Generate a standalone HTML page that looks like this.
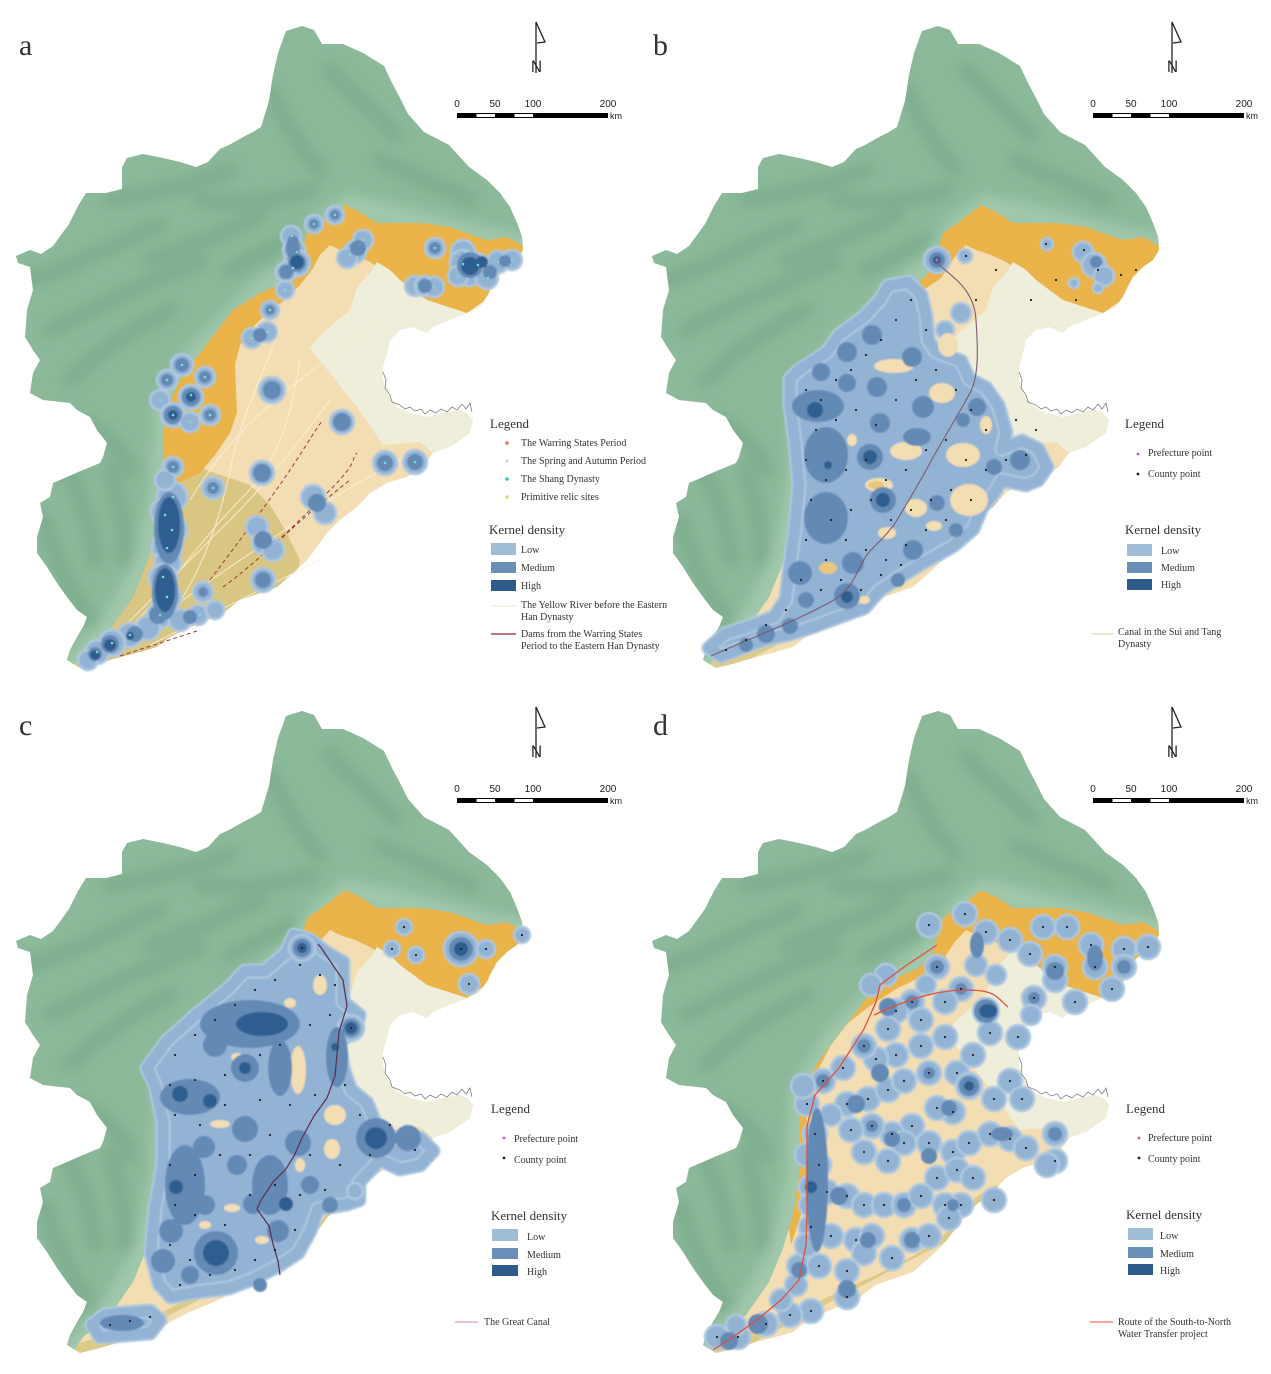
<!DOCTYPE html>
<html><head><meta charset="utf-8"><style>
html,body{margin:0;padding:0;background:#fff}
svg{display:block}
.L{fill:#93b3d4;stroke:#afc8e0;stroke-width:2.5}
.M{fill:#6489b5}
.H{fill:#2f5d8f}
.t{font-family:"Liberation Serif",serif;fill:#333}
.s{font-family:"Liberation Sans",sans-serif;fill:#222}
</style></head><body>
<svg width="1271" height="1374" viewBox="0 0 1271 1374" xmlns="http://www.w3.org/2000/svg">
<defs>
<path id="O" d="M302,26 L314,30 L322,44 L343,44 L363,53 L384,66 L392,83 L400,98 L408,114 L424,132 L449,145 L469,167 L487,180 L500,193 L510,207 L517,223 L522,237 L523,250 L517,260 L507,267 L497,277 L490,290 L487,297 L480,307 L467,313 L450,320 L433,327 L427,333 L413,327 L400,330 L390,340 L387,353 L383,367 L383,380 L387,393 L397,407 L410,413 L427,417 L443,413 L460,410 L467,413 L473,420 L470,433 L450,447 L433,453 L423,467 L407,477 L387,483 L370,493 L357,507 L340,520 L327,533 L317,547 L307,560 L293,573 L277,587 L260,593 L240,600 L223,613 L207,620 L190,627 L170,637 L157,647 L140,652 L117,658 L100,663 L80,668 L67,660 L70,650 L77,637 L83,627 L87,617 L77,610 L67,597 L57,583 L47,567 L37,553 L37,537 L43,517 L40,503 L50,497 L53,483 L67,477 L83,470 L100,463 L103,457 L107,443 L97,430 L90,417 L77,410 L70,403 L43,400 L30,393 L33,373 L40,360 L33,350 L25,337 L27,310 L33,290 L30,267 L18,263 L16,256 L30,250 L41,254 L53,246 L69,224 L78,206 L86,193 L106,193 L122,189 L122,167 L127,158 L143,154 L163,158 L180,162 L196,167 L208,162 L220,149 L229,145 L245,136 L253,132 L261,127 L269,101 L273,75 L278,53 L286,31 Z"/>
<path id="G" d="M0,0 L640,0 L640,245 L523,246 L507,237 L487,240 L467,233 L450,227 L420,223 L400,223 L377,223 L360,212 L345,205 L323,222 L307,233 L297,267 L283,283 L260,293 L233,310 L200,353 L180,380 L166,410 L163,440 L163,490 L157,530 L147,563 L133,597 L110,630 L83,652 L72,668 L0,690 Z"/>
<clipPath id="cl"><use href="#O"/></clipPath>
<clipPath id="gcl"><use href="#G"/></clipPath>
<filter id="bl" filterUnits="userSpaceOnUse" x="-50" y="-50" width="700" height="800"><feGaussianBlur stdDeviation="6"/></filter>
<filter id="sb" filterUnits="userSpaceOnUse" x="-50" y="-50" width="700" height="800"><feGaussianBlur stdDeviation="0.8"/></filter>

<path id="orA" fill="#ebb44a" d="M150,520 L150,420 L170,370 L200,330 L240,290 L280,255 L300,210 L345,190 L380,205 L450,210 L500,215 L535,232 L535,252 L517,262 L500,275 L490,292 L480,306 L467,313 L445,308 L427,300 L410,290 L400,280 L385,272 L370,262 L355,255 L340,250 L330,245 L320,255 L312,270 L300,285 L285,300 L265,315 L250,330 L240,345 L235,365 L237,413 L230,433 L215,455 L200,473 L185,480 L165,488 L160,520 Z"/>
<path id="orB" fill="#ebb44a" d="M150,520 L150,420 L170,370 L200,330 L240,290 L280,255 L300,210 L345,190 L380,205 L450,210 L500,215 L535,232 L535,252 L517,262 L500,275 L490,292 L480,306 L467,313 L445,308 L427,300 L410,290 L400,280 L385,272 L370,262 L355,255 L340,250 L330,245 L318,258 L305,278 L285,292 L262,303 L238,318 L212,338 L195,360 L182,385 L172,412 L170,445 L170,500 L165,530 L155,560 Z"/>
<path id="olA" fill="#d8c682" d="M160,478 L200,468 L250,485 L270,505 L285,530 L300,560 L297,575 L277,590 L240,605 L200,625 L150,650 L90,672 L55,672 L100,600 L140,560 Z"/>
<path id="olB" fill="#dcca88" d="M360,500 L340,512 L318,540 L300,557 L270,575 L240,590 L200,608 L160,628 L120,645 L80,658 L55,665 L55,690 L380,520 Z"/>
<path id="cr" fill="#eeeedb" d="M377,262 L390,270 L400,280 L427,300 L467,313 L500,290 L545,300 L545,445 L475,440 L433,453 L420,442 L383,445 L357,407 L343,390 L330,373 L313,353 L310,347 L323,333 L350,310 L357,287 L370,273 Z"/>
<g id="gr">
<use href="#G" fill="#8bb99a"/>
<g clip-path="url(#gcl)">
<g filter="url(#bl)" fill="none" stroke-linecap="round">
<g stroke="#6f9f80" stroke-width="16" opacity="0.45">
<path d="M30,280 C70,270 110,245 160,225"/>
<path d="M50,330 C90,310 140,285 200,262"/>
<path d="M70,380 C100,350 130,330 170,310"/>
<path d="M110,200 C150,195 190,185 230,170"/>
<path d="M150,260 C180,250 220,235 260,215"/>
<path d="M270,90 C285,120 300,150 320,170"/>
<path d="M330,70 C350,95 375,110 395,135"/>
<path d="M380,160 C410,175 440,185 470,200"/>
<path d="M60,460 C80,490 90,520 95,560"/>
<path d="M45,520 C55,560 70,590 90,620"/>
<path d="M110,470 C120,500 125,530 125,560"/>
<path d="M200,200 C240,205 280,200 310,190"/>
<path d="M230,270 C250,260 270,250 290,240"/>
<path d="M80,420 C100,430 120,445 130,470"/>
</g>
<path stroke="#a9cdb1" stroke-width="24" opacity="0.75" d="M72,668 L110,630 L147,563 L163,490 L166,410 L200,353 L260,293 L297,267 L323,227 L350,207 L420,223 L487,240 L523,246"/>
</g>
</g>
</g>
<g id="coast" fill="none" stroke="#6e7466" stroke-width="0.7">
<path d="M383,372 L386,380 L385,388 L390,395 L392,402 L400,405 L405,409 L410,407 L415,411 L421,409 L425,414 L430,410 L436,413 L441,409 L447,412 L452,407 L457,410 L462,404 L466,409 L470,403 L472,412"/>
</g>
<g id="nsb">
<path d="M536,22 L536,73" stroke="#222" stroke-width="1.3"/>
<path d="M536,22 L545,42 L537,43" fill="none" stroke="#222" stroke-width="1.3"/>
<text class="s" x="531" y="72" font-size="17" textLength="11" lengthAdjust="spacingAndGlyphs">N</text>
<rect x="457" y="113" width="151" height="5" fill="#000"/>
<rect x="476.5" y="114" width="18.5" height="3" fill="#fff"/>
<rect x="514.5" y="114" width="18.5" height="3" fill="#fff"/>
<text class="s" font-size="10" text-anchor="middle"><tspan x="457" y="107">0</tspan><tspan x="495" y="107">50</tspan><tspan x="533" y="107">100</tspan><tspan x="608" y="107">200</tspan></text>
<text class="s" x="610" y="119" font-size="9">km</text>
</g>
</defs>

<rect width="1271" height="1374" fill="#fff"/>

<!-- ===== PANEL A ===== -->
<g>
<g clip-path="url(#cl)">
<use href="#O" fill="#f3ddb3"/>
<use href="#olA"/><use href="#orA"/><use href="#cr"/><use href="#gr"/>
</g>
<use href="#coast"/>
<g fill="none" stroke="#fbf1d8" stroke-width="1" opacity="0.9">
<path d="M92,660 C140,610 190,560 230,520 S300,440 330,400"/>
<path d="M110,650 C160,600 200,540 240,500 S290,420 300,360"/>
<path d="M130,640 C180,600 240,560 300,520 S380,470 420,450"/>
<path d="M160,630 C200,580 220,520 230,470 S260,380 280,330"/>
<path d="M190,500 C220,450 260,410 300,380 S350,340 380,320"/>
<path d="M150,645 C200,620 260,590 320,560"/>
</g>
<g fill="none" stroke="#9a3b3b" stroke-width="1" stroke-dasharray="4,3">
<path d="M210,580 C240,540 270,500 290,470 S315,430 323,420"/>
<path d="M223,587 C260,560 300,520 330,490 S350,460 357,453"/>
<path d="M277,543 C300,520 325,500 350,480"/>
<path d="M120,656 L200,630"/>
</g>
<g filter="url(#sb)">
<g class="L">
<circle cx="335" cy="215" r="9"/><circle cx="314" cy="224" r="9"/><circle cx="291" cy="236" r="10"/><circle cx="294" cy="250" r="11"/><circle cx="297" cy="263" r="13"/><circle cx="286" cy="272" r="10"/><circle cx="363" cy="240" r="10"/><circle cx="355" cy="252" r="11"/><circle cx="347" cy="258" r="10"/><circle cx="435" cy="248" r="10"/><circle cx="415" cy="286" r="10"/><circle cx="425" cy="286" r="10"/><circle cx="434" cy="287" r="10"/><circle cx="463" cy="252" r="12"/><circle cx="463" cy="263" r="13"/><circle cx="476" cy="266" r="13"/><circle cx="469" cy="274" r="12"/><circle cx="458" cy="276" r="10"/><circle cx="487" cy="278" r="11"/><circle cx="498" cy="262" r="11"/><circle cx="512" cy="260" r="10"/><circle cx="285" cy="290" r="9"/><circle cx="270" cy="310" r="9"/><circle cx="267" cy="332" r="10"/><circle cx="252" cy="338" r="10"/><circle cx="182" cy="365" r="11"/><circle cx="167" cy="380" r="10"/><circle cx="205" cy="377" r="10"/><circle cx="191" cy="397" r="12"/><circle cx="160" cy="400" r="10"/><circle cx="173" cy="415" r="12"/><circle cx="190" cy="422" r="10"/><circle cx="210" cy="415" r="10"/><circle cx="272" cy="390" r="13"/><circle cx="342" cy="422" r="12"/><circle cx="385" cy="463" r="12"/><circle cx="415" cy="462" r="12"/><circle cx="173" cy="467" r="10"/><circle cx="262" cy="473" r="12"/><circle cx="213" cy="488" r="11"/><circle cx="313" cy="497" r="12"/><circle cx="325" cy="513" r="11"/><circle cx="257" cy="527" r="11"/><circle cx="263" cy="543" r="11"/><circle cx="273" cy="550" r="11"/><circle cx="263" cy="580" r="12"/><circle cx="203" cy="592" r="10"/><circle cx="172" cy="497" r="15"/><circle cx="166" cy="512" r="15"/><circle cx="171" cy="530" r="16"/><circle cx="167" cy="547" r="15"/><circle cx="168" cy="562" r="13"/><circle cx="163" cy="578" r="14"/><circle cx="167" cy="597" r="14"/><circle cx="160" cy="615" r="13"/><circle cx="148" cy="628" r="12"/><circle cx="130" cy="635" r="12"/><circle cx="112" cy="643" r="13"/><circle cx="97" cy="652" r="12"/><circle cx="88" cy="660" r="10"/><circle cx="180" cy="620" r="11"/><circle cx="198" cy="615" r="10"/><circle cx="215" cy="610" r="9"/><circle cx="165" cy="480" r="10"/>
</g>
<g class="M">
<circle cx="335" cy="215" r="5"/><circle cx="314" cy="224" r="5"/><ellipse cx="293" cy="248" rx="7" ry="13"/><circle cx="297" cy="263" r="9"/><circle cx="286" cy="272" r="7"/><circle cx="358" cy="248" r="8"/><circle cx="435" cy="248" r="6"/><circle cx="425" cy="286" r="7"/><circle cx="470" cy="265" r="13"/><circle cx="490" cy="272" r="7"/><circle cx="505" cy="261" r="6"/><circle cx="270" cy="310" r="5"/><circle cx="260" cy="335" r="7"/><circle cx="182" cy="365" r="7"/><circle cx="191" cy="397" r="9"/><circle cx="173" cy="415" r="9"/><circle cx="167" cy="380" r="6"/><circle cx="205" cy="377" r="6"/><circle cx="210" cy="415" r="6"/><circle cx="272" cy="390" r="9"/><circle cx="342" cy="422" r="9"/><circle cx="385" cy="463" r="8"/><circle cx="415" cy="462" r="8"/><circle cx="262" cy="473" r="9"/><circle cx="213" cy="488" r="6"/><circle cx="317" cy="503" r="9"/><circle cx="263" cy="540" r="9"/><circle cx="263" cy="580" r="8"/><ellipse cx="169" cy="528" rx="15" ry="36"/><ellipse cx="165" cy="592" rx="13" ry="28"/><circle cx="158" cy="615" r="9"/><circle cx="135" cy="634" r="8"/><circle cx="110" cy="644" r="9"/><circle cx="95" cy="654" r="7"/><circle cx="190" cy="617" r="7"/><circle cx="173" cy="467" r="6"/><circle cx="203" cy="592" r="5"/>
</g>
<g class="H">
<circle cx="297" cy="262" r="7"/><circle cx="470" cy="266" r="9"/><circle cx="482" cy="262" r="6"/><circle cx="191" cy="397" r="5"/><circle cx="173" cy="415" r="5"/><ellipse cx="169" cy="525" rx="11" ry="28"/><ellipse cx="165" cy="590" rx="10" ry="22"/><circle cx="110" cy="645" r="6"/><circle cx="95" cy="655" r="5"/><circle cx="130" cy="636" r="4"/>
</g>
</g>
<path fill="none" stroke="#79dccd" stroke-width="2.6" stroke-linecap="round" d="M335,215h0M314,224h0M292,236h0M297,252h0M293,268h0M363,240h0M350,255h0M435,248h0M416,286h0M434,287h0M465,252h0M463,264h0M478,265h0M458,276h0M488,278h0M498,262h0M512,260h0M285,290h0M270,310h0M267,332h0M252,338h0M182,365h0M167,380h0M205,377h0M191,395h0M160,400h0M173,415h0M190,422h0M210,415h0M385,463h0M415,462h0M173,467h0M213,488h0M173,497h0M165,515h0M172,530h0M167,548h0M163,577h0M167,597h0M160,615h0M130,635h0M112,643h0M97,652h0M200,615h0"/>
<use href="#nsb"/>
</g>
<text class="t" x="19" y="55" font-size="30">a</text>
<text class="t" x="490" y="428" font-size="13">Legend</text>
<circle cx="507" cy="443" r="1.8" fill="#e07a5a"/><circle cx="507" cy="461" r="1.8" fill="#dcd8cc"/><circle cx="507" cy="479" r="1.8" fill="#3cc4b4"/><circle cx="507" cy="497" r="1.8" fill="#e4d870"/>
<text class="t" font-size="10"><tspan x="521" y="446">The Warring States Period</tspan><tspan x="521" y="464">The Spring and Autumn Period</tspan><tspan x="521" y="482">The Shang Dynasty</tspan><tspan x="521" y="500">Primitive relic sites</tspan></text>
<text class="t" x="489" y="534" font-size="13">Kernel density</text>
<rect x="491" y="543" width="25" height="12" fill="#a0bdd8"/><rect x="491" y="562" width="25" height="11" fill="#6a8fb7"/><rect x="491" y="580" width="25" height="11" fill="#2f5b8a"/>
<text class="t" font-size="10"><tspan x="521" y="553">Low</tspan><tspan x="521" y="571">Medium</tspan><tspan x="521" y="589">High</tspan></text>
<line x1="491" y1="606" x2="516" y2="606" stroke="#f3ead0" stroke-width="1.2"/>
<text class="t" font-size="10"><tspan x="521" y="608">The Yellow River before the Eastern</tspan><tspan x="521" y="620">Han Dynasty</tspan><tspan x="521" y="637">Dams from the Warring States</tspan><tspan x="521" y="649">Period to the Eastern Han Dynasty</tspan></text>
<line x1="491" y1="634" x2="516" y2="634" stroke="#8b2a3a" stroke-width="1.2"/>

<!-- ===== PANEL B ===== -->
<g transform="translate(636,0)">
<g clip-path="url(#cl)">
<use href="#O" fill="#f3ddb3"/>
<use href="#olB"/><use href="#orB"/><use href="#cr"/><use href="#gr"/>
</g>
<use href="#coast"/>
<g filter="url(#sb)">
<path fill="#93b3d4" stroke="#afc8e0" stroke-width="15" stroke-linejoin="round" d="M154,379 L163,370 L191,352 L203,335 L228,317 L244,300 L252,286 L272,282 L285,295 L290,315 L292,340 L300,352 L325,361 L333,379 L350,388 L362,405 L370,432 L366,449 L386,441 L402,449 L411,467 L402,480 L390,485 L366,480 L358,493 L346,507 L337,529 L317,546 L301,555 L285,564 L264,577 L244,590 L228,608 L203,617 L179,626 L154,634 L130,639 L106,648 L85,656 L73,648 L89,634 L114,626 L138,617 L150,599 L154,564 L159,529 L163,485 L159,441 L154,405 Z"/>
<path fill="none" stroke="#93b3d4" stroke-width="11" stroke-linejoin="round" d="M154,379 L163,370 L191,352 L203,335 L228,317 L244,300 L252,286 L272,282 L285,295 L290,315 L292,340 L300,352 L325,361 L333,379 L350,388 L362,405 L370,432 L366,449 L386,441 L402,449 L411,467 L402,480 L390,485 L366,480 L358,493 L346,507 L337,529 L317,546 L301,555 L285,564 L264,577 L244,590 L228,608 L203,617 L179,626 L154,634 L130,639 L106,648 L85,656 L73,648 L89,634 L114,626 L138,617 L150,599 L154,564 L159,529 L163,485 L159,441 L154,405 Z"/>
<g class="L">
<circle cx="301" cy="260" r="13"/><circle cx="329" cy="256" r="7"/><circle cx="325" cy="313" r="10"/><circle cx="309" cy="330" r="9"/><circle cx="447" cy="252" r="10"/><circle cx="458" cy="265" r="12"/><circle cx="468" cy="276" r="10"/><circle cx="411" cy="244" r="6"/><circle cx="438" cy="283" r="5"/><circle cx="462" cy="288" r="5"/>
</g>
<g fill="#f3ddb3">
<ellipse cx="258" cy="366" rx="20" ry="7"/><ellipse cx="270" cy="451" rx="16" ry="9"/><ellipse cx="327" cy="455" rx="17" ry="12"/><ellipse cx="333" cy="500" rx="19" ry="16"/><ellipse cx="243" cy="485" rx="14" ry="7"/><ellipse cx="280" cy="508" rx="11" ry="9"/><ellipse cx="251" cy="533" rx="9" ry="6"/><ellipse cx="306" cy="393" rx="13" ry="10"/><ellipse cx="216" cy="440" rx="5" ry="6"/><ellipse cx="312" cy="345" rx="10" ry="12"/><ellipse cx="298" cy="526" rx="8" ry="5"/><ellipse cx="228" cy="600" rx="6" ry="4"/><ellipse cx="350" cy="425" rx="6" ry="9"/>
</g>
<g fill="#e9c77a"><ellipse cx="192" cy="568" rx="9" ry="6"/><ellipse cx="240" cy="485" rx="8" ry="4"/></g>
<g class="M">
<ellipse cx="182" cy="406" rx="26" ry="16"/><ellipse cx="190" cy="455" rx="22" ry="28"/><ellipse cx="190" cy="518" rx="22" ry="26"/><circle cx="234" cy="457" r="13"/><circle cx="247" cy="500" r="13"/><circle cx="244" cy="423" r="10"/><ellipse cx="281" cy="437" rx="14" ry="9"/><circle cx="287" cy="407" r="11"/><circle cx="241" cy="387" r="10"/><circle cx="211" cy="383" r="9"/><circle cx="341" cy="407" r="9"/><circle cx="327" cy="420" r="7"/><circle cx="301" cy="503" r="8"/><circle cx="277" cy="550" r="10"/><circle cx="217" cy="563" r="11"/><circle cx="164" cy="573" r="12"/><circle cx="211" cy="596" r="13"/><circle cx="211" cy="352" r="10"/><circle cx="236" cy="335" r="10"/><circle cx="276" cy="357" r="10"/><circle cx="185" cy="372" r="9"/><circle cx="130" cy="634" r="9"/><circle cx="110" cy="645" r="7"/><circle cx="154" cy="626" r="8"/><circle cx="358" cy="467" r="8"/><circle cx="384" cy="460" r="10"/><circle cx="301" cy="260" r="8"/><circle cx="460" cy="262" r="6"/><circle cx="262" cy="580" r="7"/><circle cx="170" cy="600" r="8"/><circle cx="320" cy="530" r="7"/>
</g>
<g class="H">
<circle cx="179" cy="410" r="8"/><circle cx="234" cy="457" r="7"/><circle cx="247" cy="500" r="7"/><circle cx="211" cy="597" r="6"/><circle cx="301" cy="260" r="4"/><circle cx="192" cy="465" r="4"/>
</g>
</g>
<path fill="none" stroke="#7d5a6e" stroke-width="1.1" d="M75,656 C110,640 150,625 175,612 S200,600 210,590 S225,560 235,550 S255,530 261,520 S285,480 294,463 S325,410 334,393 S342,350 340,320 S320,280 300,262"/>
<path fill="none" stroke="#222" stroke-width="2.2" stroke-linecap="round" d="M170,390h0M185,400h0M200,380h0M215,370h0M230,355h0M245,340h0M260,320h0M275,300h0M290,330h0M180,430h0M200,420h0M220,410h0M240,425h0M260,400h0M280,380h0M300,370h0M320,390h0M335,410h0M350,430h0M170,460h0M190,480h0M210,470h0M230,460h0M250,480h0M270,470h0M290,450h0M310,440h0M330,460h0M350,470h0M370,460h0M390,455h0M175,500h0M195,520h0M215,510h0M235,500h0M255,520h0M275,510h0M295,500h0M315,490h0M335,500h0M170,540h0M190,560h0M210,540h0M230,550h0M250,560h0M270,545h0M290,530h0M310,520h0M165,580h0M185,590h0M205,580h0M225,590h0M245,575h0M265,565h0M150,610h0M130,625h0M110,640h0M90,650h0M330,256h0M410,244h0M448,250h0M462,270h0M485,275h0M420,280h0M360,270h0M340,300h0M440,300h0M500,270h0M395,300h0M380,420h0M400,430h0"/>
<circle cx="301" cy="260" r="1.5" fill="#d060c0"/>
<use href="#nsb"/>
</g>
<text class="t" x="653" y="55" font-size="30">b</text>
<text class="t" x="1125" y="428" font-size="13">Legend</text>
<circle cx="1138" cy="454" r="1.4" fill="#c858c0"/><circle cx="1138" cy="474" r="1.4" fill="#222"/>
<text class="t" font-size="10"><tspan x="1148" y="456">Prefecture point</tspan><tspan x="1148" y="477">County point</tspan></text>
<text class="t" x="1125" y="534" font-size="13">Kernel density</text>
<rect x="1127" y="544" width="25" height="12" fill="#a0bdd8"/><rect x="1127" y="562" width="25" height="11" fill="#6a8fb7"/><rect x="1127" y="579" width="25" height="11" fill="#2f5b8a"/>
<text class="t" font-size="10"><tspan x="1161" y="554">Low</tspan><tspan x="1161" y="571">Medium</tspan><tspan x="1161" y="588">High</tspan></text>
<line x1="1092" y1="634" x2="1113" y2="634" stroke="#e6d6b0" stroke-width="1.2"/>
<text class="t" font-size="10"><tspan x="1118" y="635">Canal in the Sui and Tang</tspan><tspan x="1118" y="647">Dynasty</tspan></text>

<!-- ===== PANEL C ===== -->
<g transform="translate(0,685)">
<g clip-path="url(#cl)">
<use href="#O" fill="#f3ddb3"/>
<use href="#olB"/><use href="#orB"/><use href="#cr"/><use href="#gr"/>
</g>
<use href="#coast"/>
<g filter="url(#sb)">
<path fill="#93b3d4" stroke="#afc8e0" stroke-width="15" stroke-linejoin="round" d="M167,356 L196,330 L229,303 L245,286 L265,286 L286,268 L294,250 L310,255 L327,268 L343,277 L343,317 L359,330 L355,347 L339,356 L343,383 L351,405 L367,418 L376,440 L392,453 L420,453 L433,466 L420,480 L400,484 L380,475 L359,497 L359,515 L347,519 L318,524 L310,546 L298,568 L278,581 L253,594 L229,603 L196,607 L171,612 L159,599 L151,568 L155,524 L163,480 L163,436 L155,400 L147,383 Z M92,640 L105,630 L125,628 L150,626 L160,635 L150,648 L125,650 L100,652 Z"/>
<path fill="none" stroke="#93b3d4" stroke-width="11" stroke-linejoin="round" d="M167,356 L196,330 L229,303 L245,286 L265,286 L286,268 L294,250 L310,255 L327,268 L343,277 L343,317 L359,330 L355,347 L339,356 L343,383 L351,405 L367,418 L376,440 L392,453 L420,453 L433,466 L420,480 L400,484 L380,475 L359,497 L359,515 L347,519 L318,524 L310,546 L298,568 L278,581 L253,594 L229,603 L196,607 L171,612 L159,599 L151,568 L155,524 L163,480 L163,436 L155,400 L147,383 Z M92,640 L105,630 L125,628 L150,626 L160,635 L150,648 L125,650 L100,652 Z"/>
<g class="L">
<circle cx="302" cy="263" r="13"/><circle cx="404" cy="242" r="8"/><circle cx="392" cy="264" r="8"/><circle cx="416" cy="270" r="8"/><circle cx="461" cy="264" r="17"/><circle cx="486" cy="264" r="9"/><circle cx="522" cy="250" r="8"/><circle cx="469" cy="299" r="10"/><circle cx="351" cy="343" r="13"/><circle cx="355" cy="506" r="8"/>
</g>
<g fill="#f3ddb3">
<ellipse cx="298" cy="385" rx="8" ry="24"/><ellipse cx="335" cy="430" rx="11" ry="10"/><ellipse cx="332" cy="464" rx="8" ry="10"/><ellipse cx="220" cy="439" rx="10" ry="4"/><ellipse cx="237" cy="372" rx="6" ry="4"/><ellipse cx="290" cy="318" rx="6" ry="5"/><ellipse cx="232" cy="523" rx="8" ry="4"/><ellipse cx="262" cy="555" rx="7" ry="4"/><ellipse cx="300" cy="480" rx="5" ry="7"/><ellipse cx="205" cy="540" rx="6" ry="4"/><ellipse cx="320" cy="300" rx="7" ry="10"/>
</g>
<g class="M">
<ellipse cx="250" cy="339" rx="50" ry="24"/><circle cx="215" cy="360" r="12"/><ellipse cx="190" cy="412" rx="30" ry="18"/><circle cx="245" cy="383" r="14"/><circle cx="376" cy="453" r="20"/><circle cx="408" cy="453" r="13"/><ellipse cx="185" cy="500" rx="20" ry="40"/><circle cx="216" cy="568" r="22"/><ellipse cx="270" cy="500" rx="18" ry="30"/><circle cx="278" cy="546" r="11"/><circle cx="253" cy="519" r="10"/><ellipse cx="337" cy="372" rx="11" ry="30"/><ellipse cx="280" cy="383" rx="12" ry="28"/><circle cx="245" cy="444" r="13"/><circle cx="298" cy="458" r="13"/><circle cx="204" cy="462" r="11"/><circle cx="171" cy="546" r="12"/><circle cx="163" cy="576" r="12"/><circle cx="237" cy="480" r="10"/><ellipse cx="122" cy="638" rx="22" ry="8"/><circle cx="302" cy="263" r="9"/><circle cx="461" cy="264" r="12"/><circle cx="351" cy="343" r="9"/><circle cx="205" cy="520" r="10"/><circle cx="260" cy="600" r="7"/><circle cx="190" cy="590" r="9"/><circle cx="310" cy="500" r="9"/><circle cx="330" cy="520" r="8"/>
</g>
<g class="H">
<ellipse cx="262" cy="339" rx="26" ry="12"/><circle cx="180" cy="409" r="8"/><circle cx="210" cy="416" r="7"/><circle cx="245" cy="383" r="6"/><circle cx="376" cy="453" r="11"/><circle cx="176" cy="502" r="7"/><circle cx="216" cy="568" r="13"/><circle cx="286" cy="519" r="7"/><circle cx="302" cy="263" r="5"/><circle cx="461" cy="264" r="7"/><circle cx="351" cy="343" r="6"/><circle cx="335" cy="362" r="4"/>
</g>
</g>
<path fill="none" stroke="#5b2d4e" stroke-width="1.2" d="M318,259 L322,264 L343,295 L347,321 L339,347 L335,391 L327,413 L314,431 L302,453 L294,471 L286,484 L273,497 L261,515 L257,524 L269,541 L273,559 L278,576 L280,590"/>
<path fill="none" stroke="#222" stroke-width="2.2" stroke-linecap="round" d="M175,370h0M195,350h0M215,335h0M235,320h0M255,305h0M275,295h0M300,280h0M320,290h0M335,300h0M170,400h0M195,395h0M225,390h0M260,370h0M280,360h0M310,340h0M330,330h0M175,430h0M200,440h0M225,420h0M260,415h0M290,420h0M315,410h0M345,400h0M360,430h0M390,440h0M415,465h0M170,480h0M195,490h0M220,470h0M250,470h0M270,450h0M310,470h0M340,480h0M370,470h0M175,520h0M195,530h0M225,540h0M250,510h0M275,500h0M300,510h0M325,505h0M170,560h0M190,575h0M210,590h0M235,585h0M255,575h0M275,565h0M295,545h0M180,600h0M110,640h0M130,636h0M150,632h0M302,263h0M404,242h0M392,264h0M416,270h0M461,264h0M486,264h0M522,250h0M469,299h0M351,343h0"/>
<use href="#nsb"/>
</g>
<text class="t" x="19" y="735" font-size="30">c</text>
<text class="t" x="491" y="1113" font-size="13">Legend</text>
<circle cx="504" cy="1138" r="1.4" fill="#c858c0"/><circle cx="504" cy="1158" r="1.4" fill="#222"/>
<text class="t" font-size="10"><tspan x="514" y="1142">Prefecture point</tspan><tspan x="514" y="1163">County point</tspan></text>
<text class="t" x="491" y="1220" font-size="13">Kernel density</text>
<rect x="492" y="1229" width="26" height="12" fill="#a0bdd8"/><rect x="492" y="1248" width="26" height="11" fill="#6a8fb7"/><rect x="492" y="1265" width="26" height="11" fill="#2f5b8a"/>
<text class="t" font-size="10"><tspan x="527" y="1240">Low</tspan><tspan x="527" y="1258">Medium</tspan><tspan x="527" y="1275">High</tspan></text>
<line x1="455" y1="1322" x2="478" y2="1322" stroke="#e8a0a8" stroke-width="1.2"/>
<text class="t" x="484" y="1325" font-size="10">The Great Canal</text>

<!-- ===== PANEL D ===== -->
<g transform="translate(636,685)">
<g clip-path="url(#cl)">
<use href="#O" fill="#f3ddb3"/>
<use href="#olB"/><use href="#orB"/><use href="#cr"/><use href="#gr"/>
</g>
<use href="#coast"/>
<g filter="url(#sb)">
<g class="L">
<circle cx="293" cy="240" r="12"/><circle cx="329" cy="229" r="12"/><circle cx="350" cy="247" r="12"/><circle cx="374" cy="255" r="12"/><circle cx="407" cy="242" r="12"/><circle cx="431" cy="242" r="12"/><circle cx="455" cy="260" r="12"/><circle cx="488" cy="264" r="12"/><circle cx="512" cy="262" r="12"/><circle cx="394" cy="269" r="12"/><circle cx="419" cy="282" r="12"/><circle cx="419" cy="295" r="12"/><circle cx="459" cy="282" r="12"/><circle cx="488" cy="282" r="12"/><circle cx="476" cy="304" r="12"/><circle cx="439" cy="317" r="12"/><circle cx="398" cy="313" r="12"/><circle cx="301" cy="282" r="12"/><circle cx="325" cy="304" r="12"/><circle cx="309" cy="317" r="12"/><circle cx="276" cy="317" r="12"/><circle cx="260" cy="326" r="12"/><circle cx="252" cy="344" r="12"/><circle cx="285" cy="335" r="12"/><circle cx="350" cy="326" r="13"/><circle cx="354" cy="348" r="12"/><circle cx="382" cy="352" r="12"/><circle cx="337" cy="370" r="12"/><circle cx="309" cy="352" r="12"/><circle cx="285" cy="361" r="12"/><circle cx="260" cy="370" r="12"/><circle cx="240" cy="374" r="12"/><circle cx="228" cy="361" r="12"/><circle cx="207" cy="383" r="12"/><circle cx="187" cy="396" r="12"/><circle cx="171" cy="419" r="12"/><circle cx="167" cy="401" r="12"/><circle cx="179" cy="449" r="12"/><circle cx="211" cy="419" r="12"/><circle cx="232" cy="414" r="12"/><circle cx="252" cy="405" r="12"/><circle cx="268" cy="396" r="12"/><circle cx="293" cy="388" r="12"/><circle cx="321" cy="388" r="12"/><circle cx="333" cy="401" r="13"/><circle cx="358" cy="414" r="12"/><circle cx="374" cy="396" r="12"/><circle cx="386" cy="414" r="12"/><circle cx="317" cy="427" r="12"/><circle cx="301" cy="423" r="12"/><circle cx="276" cy="441" r="12"/><circle cx="256" cy="449" r="12"/><circle cx="236" cy="441" r="12"/><circle cx="215" cy="445" r="12"/><circle cx="228" cy="467" r="12"/><circle cx="252" cy="476" r="12"/><circle cx="268" cy="458" r="12"/><circle cx="293" cy="458" r="12"/><circle cx="317" cy="467" r="12"/><circle cx="333" cy="458" r="12"/><circle cx="354" cy="449" r="12"/><circle cx="374" cy="454" r="12"/><circle cx="390" cy="463" r="12"/><circle cx="419" cy="449" r="12"/><circle cx="419" cy="476" r="12"/><circle cx="411" cy="480" r="12"/><circle cx="183" cy="480" r="12"/><circle cx="175" cy="502" r="12"/><circle cx="191" cy="507" r="12"/><circle cx="211" cy="511" r="12"/><circle cx="228" cy="520" r="12"/><circle cx="248" cy="520" r="12"/><circle cx="268" cy="520" r="12"/><circle cx="285" cy="511" r="12"/><circle cx="301" cy="493" r="12"/><circle cx="321" cy="485" r="12"/><circle cx="337" cy="493" r="12"/><circle cx="358" cy="515" r="12"/><circle cx="325" cy="520" r="12"/><circle cx="309" cy="520" r="12"/><circle cx="175" cy="542" r="12"/><circle cx="195" cy="551" r="12"/><circle cx="220" cy="555" r="12"/><circle cx="236" cy="551" r="12"/><circle cx="256" cy="573" r="12"/><circle cx="276" cy="555" r="12"/><circle cx="293" cy="551" r="12"/><circle cx="313" cy="533" r="12"/><circle cx="163" cy="581" r="12"/><circle cx="183" cy="581" r="12"/><circle cx="211" cy="586" r="12"/><circle cx="211" cy="612" r="12"/><circle cx="175" cy="626" r="12"/><circle cx="154" cy="630" r="12"/><circle cx="130" cy="639" r="12"/><circle cx="102" cy="652" r="12"/><circle cx="81" cy="652" r="12"/><circle cx="228" cy="568" r="12"/><circle cx="171" cy="470" r="12"/><circle cx="175" cy="520" r="12"/><circle cx="171" cy="560" r="12"/><circle cx="250" cy="290" r="11"/><circle cx="235" cy="300" r="11"/><circle cx="340" cy="280" r="11"/><circle cx="360" cy="290" r="10"/><circle cx="290" cy="300" r="10"/><circle cx="195" cy="430" r="11"/><circle cx="395" cy="330" r="10"/><circle cx="160" cy="600" r="11"/><circle cx="145" cy="615" r="11"/><circle cx="100" cy="640" r="10"/>
</g>
<g class="M">
<circle cx="252" cy="322" r="9"/><circle cx="350" cy="326" r="12"/><ellipse cx="459" cy="273" rx="8" ry="13"/><circle cx="419" cy="286" r="9"/><ellipse cx="341" cy="260" rx="7" ry="13"/><circle cx="220" cy="419" r="9"/><circle cx="244" cy="388" r="9"/><circle cx="333" cy="401" r="10"/><circle cx="313" cy="423" r="8"/><circle cx="256" cy="454" r="8"/><circle cx="293" cy="471" r="8"/><ellipse cx="366" cy="449" rx="11" ry="7"/><circle cx="203" cy="511" r="9"/><circle cx="232" cy="555" r="8"/><circle cx="276" cy="555" r="8"/><circle cx="211" cy="604" r="9"/><circle cx="122" cy="639" r="10"/><circle cx="93" cy="656" r="9"/><ellipse cx="181" cy="495" rx="11" ry="72"/><circle cx="301" cy="282" r="7"/><circle cx="276" cy="317" r="7"/><circle cx="398" cy="313" r="6"/><circle cx="488" cy="282" r="7"/><circle cx="419" cy="449" r="7"/><circle cx="268" cy="520" r="7"/><circle cx="325" cy="304" r="6"/><circle cx="228" cy="361" r="7"/><circle cx="293" cy="388" r="6"/><circle cx="187" cy="396" r="7"/><circle cx="163" cy="585" r="8"/><circle cx="236" cy="441" r="6"/><circle cx="317" cy="520" r="6"/>
</g>
<g class="H">
<ellipse cx="352" cy="326" rx="9" ry="7"/><circle cx="333" cy="401" r="5"/><circle cx="175" cy="502" r="6"/>
</g>
</g>
<g fill="none" stroke="#e0503a" stroke-width="1.3">
<path d="M77,665 L100,650 L122,634 L145,615 L163,595 L170,560 L171,529 L171,480 L171,441 L179,410 L203,383 L228,344 L240,317 L244,300 L268,282 L301,260"/>
<path d="M238,330 C270,315 300,305 330,305 S360,312 372,322"/>
</g>
<path fill="none" stroke="#222" stroke-width="2.2" stroke-linecap="round" d="M293,240h0M329,229h0M350,247h0M374,255h0M407,242h0M431,242h0M455,260h0M488,264h0M512,262h0M394,269h0M419,282h0M459,282h0M476,304h0M439,317h0M398,313h0M301,282h0M325,304h0M309,317h0M276,317h0M260,326h0M252,344h0M285,335h0M354,348h0M382,352h0M337,370h0M309,352h0M285,361h0M260,370h0M240,374h0M228,361h0M207,383h0M187,396h0M171,419h0M179,449h0M211,419h0M232,414h0M252,405h0M268,396h0M293,388h0M321,388h0M358,414h0M374,396h0M386,414h0M317,427h0M301,423h0M276,441h0M256,449h0M236,441h0M215,445h0M228,467h0M252,476h0M268,458h0M293,458h0M317,467h0M333,458h0M354,449h0M374,454h0M390,463h0M419,476h0M183,480h0M191,507h0M211,511h0M228,520h0M248,520h0M285,511h0M301,493h0M321,485h0M337,493h0M358,515h0M325,520h0M309,520h0M175,542h0M195,551h0M220,555h0M256,573h0M293,551h0M313,533h0M183,581h0M211,586h0M211,612h0M175,626h0M154,630h0M130,639h0M102,652h0M81,652h0"/>
<use href="#nsb"/>
</g>
<text class="t" x="653" y="735" font-size="30">d</text>
<text class="t" x="1126" y="1113" font-size="13">Legend</text>
<circle cx="1139" cy="1138" r="1.4" fill="#e05a60"/><circle cx="1139" cy="1158" r="1.4" fill="#222"/>
<text class="t" font-size="10"><tspan x="1148" y="1141">Prefecture point</tspan><tspan x="1148" y="1162">County point</tspan></text>
<text class="t" x="1126" y="1219" font-size="13">Kernel density</text>
<rect x="1128" y="1228" width="25" height="12" fill="#a0bdd8"/><rect x="1128" y="1247" width="25" height="11" fill="#6a8fb7"/><rect x="1128" y="1264" width="25" height="11" fill="#2f5b8a"/>
<text class="t" font-size="10"><tspan x="1160" y="1239">Low</tspan><tspan x="1160" y="1257">Medium</tspan><tspan x="1160" y="1274">High</tspan></text>
<line x1="1090" y1="1322" x2="1113" y2="1322" stroke="#f07050" stroke-width="1.2"/>
<text class="t" font-size="10"><tspan x="1118" y="1325">Route of  the South-to-North</tspan><tspan x="1118" y="1337">Water Transfer project</tspan></text>
</svg>
</body></html>
